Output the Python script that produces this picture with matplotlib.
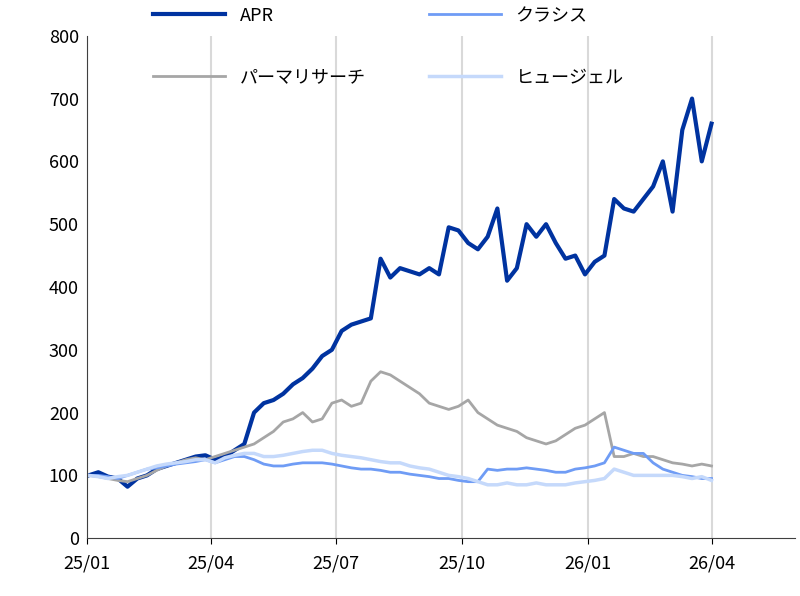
import numpy as np
import pandas as pd
import matplotlib
matplotlib.use("Agg")
import matplotlib.pyplot as plt
import matplotlib.dates as mdates

plt.rcParams['font.family'] = ['Noto Sans CJK JP', 'DejaVu Sans']

start, end = '2025-01-02', '2026-04-01'

apr = [100, 105, 98, 95, 82, 95, 100, 110, 115, 120, 125, 130, 132, 125, 130, 140,
       150, 200, 215, 220, 230, 245, 255, 270, 290, 300, 330, 340, 345, 350, 445, 415,
       430, 425, 420, 430, 420, 495, 490, 470, 460, 480, 525, 410, 430, 500, 480, 500,
       470, 445, 450, 420, 440, 450, 540, 525, 520, 540, 560, 600, 520, 650, 700, 600, 660]
perma = [100, 98, 95, 92, 90, 95, 100, 108, 115, 120, 125, 128, 125, 130, 135, 140,
         145, 150, 160, 170, 185, 190, 200, 185, 190, 215, 220, 210, 215, 250, 265, 260,
         250, 240, 230, 215, 210, 205, 210, 220, 200, 190, 180, 175, 170, 160, 155, 150,
         155, 165, 175, 180, 190, 200, 130, 130, 135, 130, 130, 125, 120, 118, 115, 118, 115]
classys = [100, 100, 98, 95, 100, 105, 110, 112, 115, 118, 120, 122, 125, 120, 125, 130,
           130, 125, 118, 115, 115, 118, 120, 120, 120, 118, 115, 112, 110, 110, 108, 105,
           105, 102, 100, 98, 95, 95, 92, 90, 90, 110, 108, 110, 110, 112, 110, 108,
           105, 105, 110, 112, 115, 120, 145, 140, 135, 135, 120, 110, 105, 100, 98, 95, 95]
hugel = [100, 98, 95, 98, 100, 105, 110, 115, 118, 120, 122, 125, 125, 120, 128, 132,
         135, 135, 130, 130, 132, 135, 138, 140, 140, 135, 132, 130, 128, 125, 122, 120,
         120, 115, 112, 110, 105, 100, 98, 95, 90, 85, 85, 88, 85, 85, 88, 85,
         85, 85, 88, 90, 92, 95, 110, 105, 100, 100, 100, 100, 100, 98, 95, 98, 92]

# legend order: column-wise fill -> APR, パーマ (col 1), クラシス, ヒュージェル (col 2)
series = [("APR", apr, "#0033a0", 3.0),
          ("パーマリサーチ", perma, "#a6a6a6", 2.0),
          ("クラシス", classys, "#6f9cf5", 2.0),
          ("ヒュージェル", hugel, "#c5d9fb", 2.5)]

fig = plt.figure(figsize=(8, 5.96), dpi=100)
ax = fig.add_axes([0.109, 0.097, 0.885, 0.843])
for name, vals, col, lw in series:
    d = pd.date_range(start, end, periods=len(vals))
    ax.plot(d, vals, color=col, lw=lw, label=name)

ticks = pd.to_datetime(['2025-01-01', '2025-04-01', '2025-07-01', '2025-10-01', '2026-01-01', '2026-04-01'])
ax.set_xticks(ticks)
ax.xaxis.set_major_formatter(mdates.DateFormatter('%y/%m'))
ax.set_xlim(pd.Timestamp('2025-01-01'), pd.Timestamp('2026-06-01'))
ax.set_ylim(0, 800)
ax.set_yticks(range(0, 801, 100))
ax.grid(axis='x', color='#d9d9d9', lw=1.5)
ax.set_axisbelow(True)
for s in ['top', 'right']:
    ax.spines[s].set_visible(False)
for s in ['left', 'bottom']:
    ax.spines[s].set_color('#404040')
ax.tick_params(labelsize=13, length=0, pad=6)
ax.tick_params(axis='x', length=4, direction='out', pad=8)
ax.legend(ncol=2, loc='upper left', bbox_to_anchor=(0.07, 1.09), frameon=False,
          fontsize=13, handlelength=4, columnspacing=3.5, labelspacing=2.4)
fig.savefig('out.png')
